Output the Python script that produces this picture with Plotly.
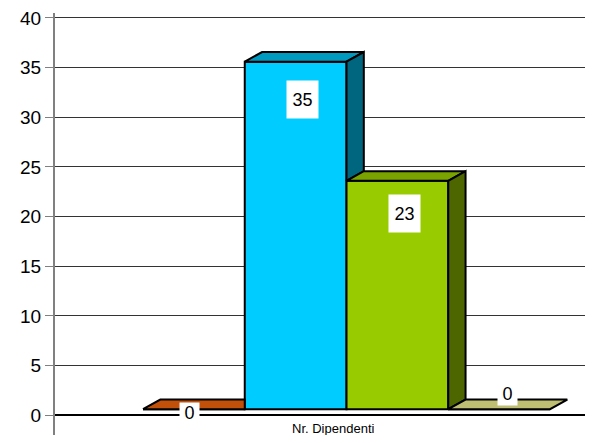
import plotly.graph_objects as go

# ---- data ----
category = "Nr. Dipendenti"
series_names = ["Serie 1", "Serie 2", "Serie 3", "Serie 4"]
values = [0, 35, 23, 0]
y_ticks = [0, 5, 10, 15, 20, 25, 30, 35, 40]

# ---- style ----
front_colors = ["#C0500A", "#00CCFF", "#99CC00", "#BFBF73"]
top_colors = ["#C0500A", "#0099BF", "#7AA300", "#BFBF73"]
side_colors = ["#803300", "#006680", "#4D6600", "#8C8C50"]
BAR_W = 0.2
DX = 0.034          # depth offset (x, data units)
DY = 0.97           # depth offset (y, data units)
LIFT = 0.6          # front face floor lift
label_dx = [-0.008, 0.014, 0.014, 0.016]
label_dy = [-0.4, -3.8, -3.3, 1.5]
label_size = [(19, 20), (31, 37), (31, 37), (19, 22)]
FONT = "Liberation Sans, Arial"

n = len(values)
centers = [(i - (n - 1) / 2) * BAR_W for i in range(n)]

fig = go.Figure()

# front faces as bars
for i in range(n):
    fig.add_trace(go.Bar(
        x=[centers[i]], y=[values[i]], base=[LIFT], width=[BAR_W],
        marker=dict(color=front_colors[i], line=dict(color="black", width=2)),
        name=series_names[i], showlegend=False, hoverinfo="skip",
    ))

# 3D top and side faces
for i in range(n):
    x0 = centers[i] - BAR_W / 2
    x1 = centers[i] + BAR_W / 2
    b = LIFT
    t = values[i] + LIFT
    nxt_top = values[i + 1] + LIFT if i + 1 < n else None
    # top face (clip where the next, taller bar's front face hides it)
    if nxt_top is not None and nxt_top > t:
        tx = [x0, x1, x1, x0 + DX, x0]
    else:
        tx = [x0, x1, x1 + DX, x0 + DX, x0]
    ty = [t, t, t + DY, t + DY, t]
    fig.add_trace(go.Scatter(
        x=tx, y=ty, fill="toself", fillcolor=top_colors[i], mode="lines",
        line=dict(color="black", width=2), showlegend=False, hoverinfo="skip",
    ))
    # side face (only the part above the next bar)
    low = b if nxt_top is None else max(b, nxt_top)
    if t > low:
        sx = [x1, x1, x1 + DX, x1 + DX, x1]
        sy = [low, t, t + DY, low + DY, low]
        fig.add_trace(go.Scatter(
            x=sx, y=sy, fill="toself", fillcolor=side_colors[i], mode="lines",
            line=dict(color="black", width=2), showlegend=False, hoverinfo="skip",
        ))

# data labels
for i in range(n):
    w, h = label_size[i]
    fig.add_annotation(
        x=centers[i] + label_dx[i], y=values[i] + LIFT + label_dy[i],
        text=str(values[i]), showarrow=False, bgcolor="white",
        width=w, height=h, borderpad=0,
        font=dict(family=FONT, size=18, color="black"),
    )

# category label
fig.add_annotation(
    x=-0.027, y=-1.3, text=category, showarrow=False,
    font=dict(family=FONT, size=13, color="black"),
)

fig.update_layout(
    width=585, height=427,
    margin=dict(l=47, r=0, t=2, b=0),
    paper_bgcolor="white", plot_bgcolor="white",
    barmode="overlay",
    xaxis=dict(range=[-0.573, 0.4845], showgrid=False, zeroline=False,
               showticklabels=False, showline=False, fixedrange=True),
    yaxis=dict(range=[-2.0, 40.5], tickvals=y_ticks,
               ticktext=[str(v) for v in y_ticks],
               ticklabeloverflow="allow",
               showgrid=True, gridcolor="#333333", gridwidth=1,
               zeroline=True, zerolinecolor="black", zerolinewidth=2,
               showline=True, linecolor="#808080", linewidth=2,
               ticks="outside", ticklen=8, tickcolor="#808080", tickwidth=1,
               tickfont=dict(family=FONT, size=19, color="black"),
               fixedrange=True),
    showlegend=False,
)

fig.write_html("out.html")
